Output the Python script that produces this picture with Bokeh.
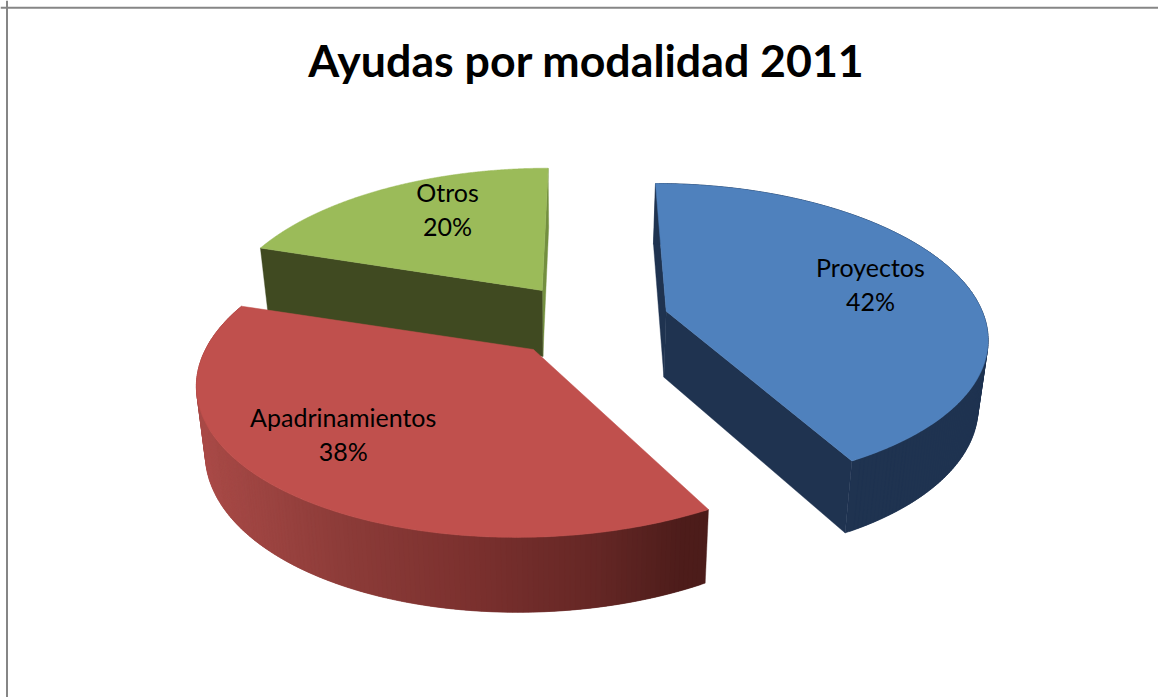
import numpy as np
from bokeh.plotting import figure
from bokeh.models import ColumnDataSource, Span
from bokeh.core.properties import value
from bokeh.embed import file_html
from bokeh.resources import INLINE

# --- data ---
title_text = "Ayudas por modalidad 2011"
categories = ["Proyectos", "Apadrinamientos", "Otros"]
shares = [42, 38, 20]

# --- colours ---
top_colors = ["#4f81bd", "#c0504d", "#9bbb59"]
blue_wall = "#1f3350"
green_wall = "#404a21"
green_edge = "#738f3f"
red_stop_x = [205, 340, 480, 600, 680, 707]
red_stop_rgb = [(168, 74, 71), (141, 60, 57), (122, 48, 46), (100, 39, 37), (78, 29, 27), (76, 28, 26)]

# --- 3D pie geometry (a perspective disc; angles clockwise from the top) ---
persp = [0.153, 0.19, 0.19]
WALL_H = 66
WALL_LEAN = 0.024
WALL_VX = 570
apex_x = [665.7, 533, 541.7]
apex_y = [310.7, 349, 290]
radius = [316, 328, 316]
depth = [962, 801, 766]
vanish_x = [585, 606, 579]
end_trim = [0.5, -0.5, 0]
label_angle = [74, 225.2, 330.8]
label_frac = [0.70, 0.71, 0.715]


def project(i, a_deg, f=1.0):
    a = np.radians(a_deg)
    u, v = np.sin(a) * f, np.cos(a) * f
    w = 1 + persp[i] * v
    x = vanish_x[i] + (apex_x[i] - vanish_x[i] + radius[i] * u) / w
    y = apex_y[i] - depth[i] + depth[i] / w
    return x, y, w


def drop(x, y, w):
    return x - WALL_LEAN * (x - WALL_VX), y + WALL_H * (1 / w) ** 0.6


p = figure(width=1158, height=697, x_range=(0, 1158), y_range=(697, 0),
           output_backend="svg", toolbar_location=None,
           min_border=0, outline_line_color=None, x_axis_type=None, y_axis_type=None)
p.grid.visible = False
p.background_fill_color = "white"
p.border_fill_color = "white"

p.add_layout(Span(location=6.5, dimension="height", line_color="#868686", line_width=2))
p.add_layout(Span(location=7.3, dimension="width", line_color="#868686", line_width=2))

starts = np.concatenate([[0], np.cumsum(shares)[:-1]]) * 3.6
ends = np.cumsum(shares) * 3.6 + np.array(end_trim)

wall_xs, wall_ys, wall_col = [], [], []
tops_xs, tops_ys = [], []


def quad(a, b, color):
    """wall between two points on the top rim (given as x, y, w)"""
    xb0, yb0 = drop(*a)
    xb1, yb1 = drop(*b)
    wall_xs.append([a[0], b[0], xb1, xb0])
    wall_ys.append([a[1], b[1], yb1, yb0])
    wall_col.append(color)


for i in [2, 0, 1]:
    angles = np.linspace(starts[i], ends[i], 361)
    x, y, w = project(i, angles)
    ax, ay = apex_x[i], apex_y[i]
    apex = (ax, ay, 1.0)
    tops_xs.append(np.concatenate([[ax], x]).tolist())
    tops_ys.append(np.concatenate([[ay], y]).tolist())
    if i == 1:
        # strips overlap the next one so that no seam shows
        for j in range(0, len(angles) - 4, 2):
            xm = 0.5 * (x[j] + x[j + 2])
            rgb = [int(np.interp(xm, red_stop_x, [c[n] for c in red_stop_rgb])) for n in range(3)]
            quad((x[j], y[j], w[j]), (x[j + 4], y[j + 4], w[j + 4]), "#%02x%02x%02x" % tuple(rgb))
    if i == 0:
        quad(apex, (x[0], y[0], w[0]), blue_wall)
        for j in range(0, len(angles) - 4, 2):
            quad((x[j], y[j], w[j]), (x[j + 4], y[j + 4], w[j + 4]), blue_wall)
        quad(apex, (x[-1], y[-1], w[-1]), blue_wall)
    if i == 2:
        quad(apex, (x[-1], y[-1], w[-1]), green_edge)
        quad(apex, (x[0], y[0], w[0]), green_wall)

p.patches(wall_xs, wall_ys, fill_color=wall_col, line_color=wall_col, line_width=0.4)

# tops: the red one goes last so it overlaps the green wall
order = [2, 0, 1]
p.patches(tops_xs, tops_ys, fill_color=[top_colors[i] for i in order],
          line_color=[top_colors[i] for i in order], line_width=0.5)

lx, ly, _ = zip(*[project(i, label_angle[i], label_frac[i]) for i in range(3)])
name_src = ColumnDataSource(dict(x=lx, y=[v - 17 for v in ly], t=categories))
pct_src = ColumnDataSource(dict(x=lx, y=[v + 17 for v in ly], t=["%d%%" % s for s in shares]))
for src in (name_src, pct_src):
    p.text("x", "y", text="t", source=src, text_font=value("Lato"), text_font_size="25px",
           text_color="black", text_align="center", text_baseline="middle")

p.text([586], [59], text=[title_text], text_font=value("Lato"), text_font_size="44.7px",
       text_font_style="bold", text_color="black", text_align="center", text_baseline="middle")

open("out.html", "w").write(file_html(p, INLINE))
